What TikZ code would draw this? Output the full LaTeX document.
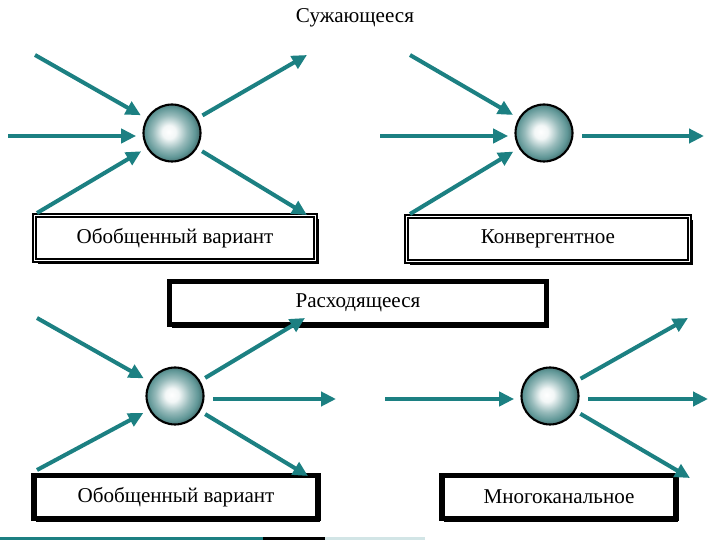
\documentclass[tikz,border=0pt]{standalone}
\usepackage{fontspec}
\setmainfont{Liberation Serif}
\usetikzlibrary{arrows.meta,shadows}
\definecolor{arrteal}{RGB}{28,128,130}
\definecolor{sph}{RGB}{95,150,150}
\pgfdeclareradialshading{sphere}{\pgfpoint{-3bp}{1bp}}{color(0bp)=(white); color(6bp)=(white!92!sph); color(15bp)=(sph!65!white); color(22bp)=(sph); color(25bp)=(sph!80!black); color(50bp)=(sph!80!black)}

\begin{document}
\begin{tikzpicture}[x=0.02cm,y=-0.02cm,font=\fontsize{12}{14}\selectfont,
  arr/.style={draw=arrteal,line width=2.3pt,-{Triangle[length=8.5pt,width=8pt]}},
  ball/.style={circle,draw=black,line width=1.2pt,shading=sphere,minimum size=1.14cm,inner sep=0pt},
  frame/.style={draw,fill=white,double=white,line width=1.1pt,double distance=0.6pt,
    drop shadow={shadow xshift=1.8pt,shadow yshift=-1.8pt,fill=black,opacity=1},
    minimum height=0.9cm,inner sep=0pt},
  heavy/.style={draw,fill=white,line width=3pt,
    drop shadow={shadow xshift=1.2pt,shadow yshift=-1.8pt,fill=black,opacity=1},
    minimum height=0.86cm,inner sep=0pt}]
\useasboundingbox (0,0) rectangle (720,540);

\node (title) at (355,18) {Сужающееся};

% upper row
\node[frame,minimum width=5.62cm] (b1) at (175,238) {Обобщенный вариант};
\node[frame,minimum width=5.66cm] (b2) at (548,239) {Конвергентное};
\node[heavy,minimum width=7.54cm] (b3) at (358,303) {Расходящееся};

\node[ball] (c1) at (172,133) {};
\node[ball] (c2) at (544,133) {};

\coordinate (i11) at (35,55);  \coordinate (i12) at (8,136);   \coordinate (i13) at (37,213);
\coordinate (o11) at (307,55); \coordinate (o12) at (307,215);
\coordinate (i21) at (410,55); \coordinate (i22) at (380,136); \coordinate (i23) at (410,214);
\coordinate (o22) at (704,136);

\foreach \a/\c in {i11/c1,i13/c1,i21/c2,i23/c2}
  \draw[arr,shorten >=3.6pt] (\a) -- (\c);
\foreach \a/\c in {i12/c1,i22/c2}
  \draw[arr,shorten >=3.6pt] (\a) -- (\a -| \c.west);
\foreach \o/\c in {o11/c1,o12/c1}
  \draw[arr,shorten <=3.2pt] (\c) -- (\o);
\draw[arr,shorten <=5pt] (o22 -| c2.east) -- (o22);

% lower row
\node[heavy,minimum width=5.68cm] (b4) at (176,497) {Обобщенный вариант};
\node[heavy,minimum width=4.68cm] (b5) at (559,497) {Многоканальное};

\node[ball] (c3) at (175,396) {};
\node[ball] (c4) at (550,396) {};

\coordinate (i31) at (37,318);  \coordinate (i33) at (37,470);
\coordinate (o31) at (305,318); \coordinate (o32) at (336,399); \coordinate (o33) at (308,476);
\coordinate (i42) at (385,399);
\coordinate (o41) at (688,318); \coordinate (o42) at (708,399); \coordinate (o43) at (690,478);

\foreach \a in {i31,i33}
  \draw[arr,shorten >=3.6pt] (\a) -- (c3);
\draw[arr,shorten >=3.6pt] (i42) -- (i42 -| c4.west);
\foreach \o/\c in {o31/c3,o33/c3,o41/c4,o43/c4}
  \draw[arr,shorten <=3.2pt] (\c) -- (\o);
\foreach \o/\c in {o32/c3,o42/c4}
  \draw[arr,shorten <=5pt] (\o -| \c.east) -- (\o);

\fill[arrteal] (0,537) rectangle (263,540);
\fill[black] (263,537) rectangle (325,540);
\fill[arrteal!20] (325,537) rectangle (425,540);
\end{tikzpicture}
\end{document}
